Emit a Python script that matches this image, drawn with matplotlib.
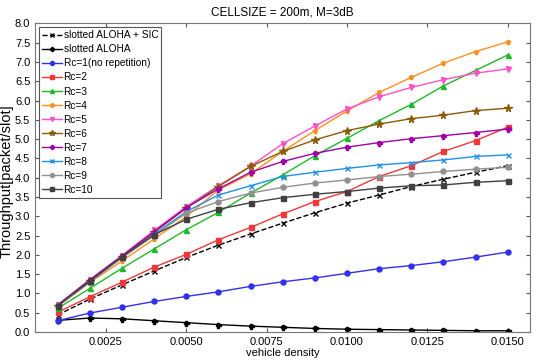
import matplotlib
matplotlib.use('Agg')
import matplotlib.pyplot as plt
from matplotlib.ticker import FormatStrFormatter, MultipleLocator

plt.rcParams['font.family'] = ['Liberation Sans', 'DejaVu Sans']

# vehicle density
density = [0.001, 0.002, 0.003, 0.004, 0.005, 0.006, 0.007, 0.008,
           0.009, 0.010, 0.011, 0.012, 0.013, 0.014, 0.015]

# throughput per scheme
sic = [0.44, 0.85, 1.22, 1.58, 1.93, 2.25, 2.54, 2.82, 3.09, 3.34, 3.55, 3.77, 3.96, 4.14, 4.31]
aloha = [0.30, 0.36, 0.34, 0.29, 0.24, 0.19, 0.15, 0.12, 0.09, 0.07, 0.06, 0.05, 0.04, 0.03, 0.03]
rc1 = [0.29, 0.49, 0.64, 0.79, 0.92, 1.04, 1.18, 1.30, 1.40, 1.52, 1.64, 1.72, 1.82, 1.94, 2.07]
rc2 = [0.51, 0.91, 1.29, 1.68, 2.01, 2.39, 2.71, 3.06, 3.38, 3.64, 4.03, 4.31, 4.68, 4.96, 5.31]
rc3 = [0.61, 1.13, 1.65, 2.15, 2.65, 3.10, 3.60, 4.07, 4.57, 5.02, 5.48, 5.90, 6.38, 6.78, 7.18]
rc4 = [0.66, 1.28, 1.84, 2.41, 2.99, 3.68, 4.10, 4.68, 5.22, 5.73, 6.21, 6.60, 6.97, 7.27, 7.52]
rc5 = [0.70, 1.35, 1.98, 2.63, 3.25, 3.79, 4.30, 4.88, 5.34, 5.78, 6.10, 6.34, 6.54, 6.71, 6.82]
rc6 = [0.68, 1.33, 1.95, 2.58, 3.21, 3.77, 4.29, 4.68, 4.98, 5.22, 5.39, 5.53, 5.62, 5.74, 5.80]
rc7 = [0.70, 1.35, 1.97, 2.60, 3.22, 3.71, 4.14, 4.42, 4.63, 4.79, 4.91, 5.01, 5.09, 5.17, 5.26]
rc8 = [0.68, 1.30, 1.93, 2.53, 3.12, 3.55, 3.79, 4.03, 4.14, 4.24, 4.33, 4.39, 4.46, 4.55, 4.59]
rc9 = [0.67, 1.30, 1.92, 2.50, 3.08, 3.38, 3.60, 3.75, 3.86, 3.94, 4.03, 4.09, 4.16, 4.22, 4.27]
rc10 = [0.68, 1.32, 1.95, 2.52, 2.92, 3.18, 3.35, 3.48, 3.57, 3.64, 3.73, 3.79, 3.81, 3.88, 3.92]

series = [
    ('slotted ALOHA + SIC', sic, 'black', 'x', '--'),
    ('slotted ALOHA', aloha, 'black', 'P', '-'),
    ('Rc=1(no repetition)', rc1, '#3030ee', 'o', '-'),
    ('Rc=2', rc2, '#f03838', 's', '-'),
    ('Rc=3', rc3, '#20b828', '^', '-'),
    ('Rc=4', rc4, '#ff9020', 'p', '-'),
    ('Rc=5', rc5, '#ff50c8', 'v', '-'),
    ('Rc=6', rc6, '#8a5c08', '*', '-'),
    ('Rc=7', rc7, '#a000a8', 'P', '-'),
    ('Rc=8', rc8, '#2090e8', 'x', '-'),
    ('Rc=9', rc9, '#909090', 'o', '-'),
    ('Rc=10', rc10, '#404040', 's', '-'),
]

fig = plt.figure(figsize=(5.5, 3.6), dpi=100)
ax = fig.add_axes([0.064, 0.078, 0.9, 0.857])

for label, vals, color, marker, ls in series:
    ms = 5.5 if marker == '*' else 3.6
    ax.plot(density, vals, color=color, marker=marker, linestyle=ls,
            linewidth=1.0, markersize=ms, label=label)

ax.set_ylim(0, 8)
ax.yaxis.set_major_locator(MultipleLocator(0.5))
ax.yaxis.set_major_formatter(FormatStrFormatter('%.1f'))
ax.set_xticks([0.0025, 0.0050, 0.0075, 0.0100, 0.0125, 0.0150])
ax.xaxis.set_major_formatter(FormatStrFormatter('%.4f'))
ax.tick_params(direction='in', top=True, right=True, labelsize=8, length=3,
               color='#555555')
for sp in ax.spines.values():
    sp.set_color('#777777')

ax.set_title('CELLSIZE = 200m, M=3dB', fontsize=8.5)
ax.set_xlabel('vehicle density', fontsize=8, labelpad=1)
ax.set_ylabel('Throughput[packet/slot]', fontsize=10.5)
ax.yaxis.set_label_coords(-0.044, 0.49)

leg = ax.legend(loc='upper left', fontsize=7.3, fancybox=False, framealpha=1,
                edgecolor='#555555', handlelength=2.0, handletextpad=0.12,
                labelspacing=0.40, borderpad=0.3, borderaxespad=0.38,
                markerscale=0.8)
leg.get_frame().set_linewidth(0.8)

fig.savefig('out.png', dpi=100)
